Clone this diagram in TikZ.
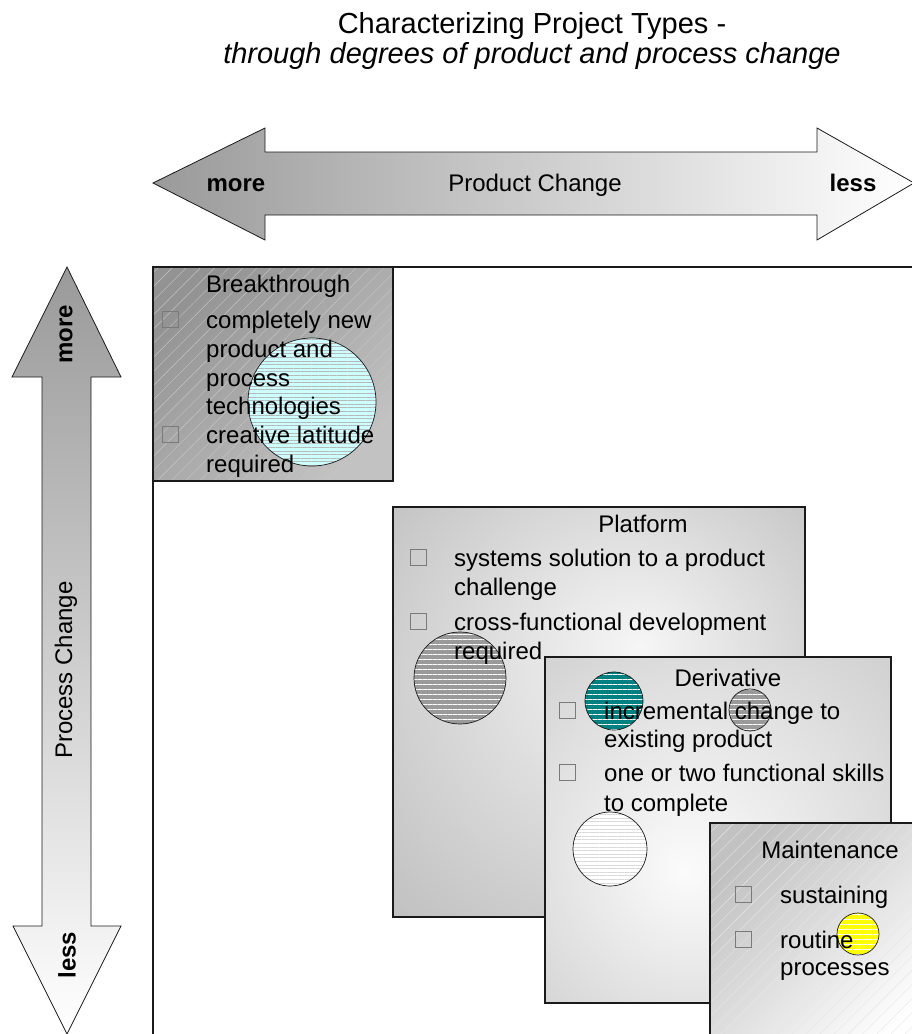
\documentclass[tikz,border=0pt]{standalone}
\usepackage{fontspec}
\setmainfont{Liberation Sans}
\usetikzlibrary{patterns.meta}

\definecolor{inkline}{HTML}{1A1A1A}
\definecolor{bulletgray}{HTML}{7A7A7A}
\definecolor{arrowdark}{HTML}{9A9A9A}
\definecolor{btdark}{HTML}{939393}
\definecolor{btlight}{HTML}{C2C2C2}
\definecolor{bthatch}{HTML}{C4C4C4}
\definecolor{mthatch}{HTML}{E6E6E6}
\definecolor{pfin}{HTML}{F6F6F6}
\definecolor{pfout}{HTML}{BDBDBD}
\definecolor{dvin}{HTML}{FBFBFB}
\definecolor{dvout}{HTML}{D2D2D2}
\definecolor{mtdark}{HTML}{C2C2C2}
\definecolor{cyanfill}{HTML}{CCFFFF}
\definecolor{cyanline}{HTML}{B8B8B8}
\definecolor{discgray}{HTML}{9A9A9A}
\definecolor{discteal}{HTML}{008080}
\definecolor{discyellow}{HTML}{FFFF00}
\definecolor{palestripe}{HTML}{DADADA}

% soft glows for the platform and derivative panels
\pgfdeclareradialshading{platformglow}{\pgfpoint{5bp}{8bp}}{color(0bp)=(pfin); color(40bp)=(pfout); color(50bp)=(pfout)}
\pgfdeclareradialshading{derivglow}{\pgfpoint{-5bp}{-6bp}}{color(0bp)=(dvin); color(36bp)=(dvout); color(50bp)=(dvout)}

\begin{document}
\begin{tikzpicture}[x=1pt, y=-1pt,
  frame/.style={draw=inkline, line width=1.6pt},
  arrowedge/.style={draw=inkline, line width=0.8pt, line join=miter},
  panel/.style={rectangle, inner sep=0pt, outer sep=0pt, anchor=north west},
  hatch/.style={postaction={pattern={Lines[angle=45,distance=10pt,line width=0.45pt]}, pattern color=bthatch}},
  hatchfaint/.style={postaction={pattern={Lines[angle=45,distance=10pt,line width=0.4pt]}, pattern color=mthatch}},
  panelborder/.style={postaction={draw=inkline, line width=1.6pt}},
  body/.style={font=\fontsize{24}{29}\selectfont, inner sep=0pt, text=black},
  itemtext/.style={body, anchor=base west},
  boxtitle/.style={body, anchor=base},
  axislabel/.style={body, anchor=base},
  boldlabel/.style={body, font=\fontsize{24}{29}\selectfont\bfseries, anchor=base},
  vlabel/.style={body, rotate=90, anchor=center},
  vbold/.style={vlabel, font=\fontsize{24}{29}\selectfont\bfseries},
  bul/.style={rectangle, draw=bulletgray, line width=0.8pt, minimum size=16pt, inner sep=0pt, anchor=south west},
  disc/.style n args={3}{circle, inner sep=0pt, minimum size=#1, draw=inkline, line width=0.7pt,
    preaction={fill=#2}, pattern={Lines[angle=0,distance=5pt,line width=0.9pt]}, pattern color=#3},
  finedisc/.style n args={3}{circle, inner sep=0pt, minimum size=#1, draw=inkline, line width=0.7pt,
    preaction={fill=#2}, pattern={Lines[angle=0,distance=3.6pt,line width=0.5pt]}, pattern color=#3},
  titlefont/.style={font=\fontsize{29}{30}\selectfont, inner sep=0pt, anchor=base}
]
\useasboundingbox (0,0) rectangle (912,1034);

% ---- heading ----
\node[titlefont] (title) at (532,33) {Characterizing Project Types -};
\node[titlefont, font=\fontsize{29}{30}\selectfont\itshape] (subtitle) at (532,63) {through degrees of product and process change};

% ---- product change axis ----
\draw[arrowedge, left color=arrowdark, right color=white]
  (153,183) -- (265,128) -- (265,152) -- (817,152) -- (817,128) -- (914,183)
  -- (817,240) -- (817,215) -- (265,215) -- (265,240) -- cycle;
\node[boldlabel] (pmore) at (236,191) {more};
\node[axislabel] (plabel) at (535,191) {Product Change};
\node[boldlabel] (pless) at (853,191) {less};

% ---- process change axis ----
\draw[arrowedge, top color=arrowdark, bottom color=white]
  (67,267) -- (121,377) -- (91,377) -- (91,926) -- (121,926) -- (67,1034)
  -- (13,926) -- (42,926) -- (42,377) -- (12,377) -- cycle;
\node[vbold] (vmore) at (66,334) {more};
\node[vlabel] (vlabel) at (66,670) {Process Change};
\node[vbold] (vless) at (67,955) {less};

% ---- outer frame ----
\draw[frame] (153,1040) -- (153,267) -- (920,267);

% ---- breakthrough ----
\node[panel, minimum width=240pt, minimum height=214pt, top color=btdark, bottom color=btlight,
      shading angle=45, hatch, panelborder] (breakthrough) at (153,267) {};
\node[finedisc={128pt}{cyanfill}{cyanline}] (btdisc) at (312,402) {};
\node[boxtitle, anchor=base west] (bttitle) at (206,292) {Breakthrough};
\node[bul] (btb1) at (162,328) {};
\node[itemtext] (bt1) at (206,328) {completely new};
\node[itemtext] (bt2) at (206,357) {product and};
\node[itemtext] (bt3) at (206,386) {process};
\node[itemtext] (bt4) at (206,414) {technologies};
\node[bul] (btb2) at (162,443) {};
\node[itemtext] (bt5) at (206,443) {creative latitude};
\node[itemtext] (bt6) at (206,472) {required};

% ---- platform ----
\node[panel, minimum width=412pt, minimum height=410pt, shade, shading=platformglow,
      draw=inkline, line width=1.6pt] (platform) at (393,507) {};
\node[disc={92pt}{discgray}{white}] (pfdisc) at (460,678) {};
\node[boxtitle] (pftitle) at (643,532) {Platform};
\node[bul] (pfb1) at (410,566) {};
\node[itemtext] (pf1) at (454,566) {systems solution to a product};
\node[itemtext] (pf2) at (454,595) {challenge};
\node[bul] (pfb2) at (410,630) {};
\node[itemtext] (pf3) at (454,630) {cross-functional development};
\node[itemtext] (pf4) at (454,659) {required};

% ---- derivative ----
\node[panel, minimum width=346pt, minimum height=346pt, shade, shading=derivglow,
      draw=inkline, line width=1.6pt] (derivative) at (545,657) {};
\node[disc={58pt}{discteal}{white}] (dvdisc1) at (614,701) {};
\node[disc={42pt}{discgray}{white}] (dvdisc2) at (750,710) {};
\node[finedisc={74pt}{white}{palestripe}] (dvdisc3) at (610,849) {};
\node[boxtitle] (dvtitle) at (728,686) {Derivative};
\node[bul] (dvb1) at (559,719) {};
\node[itemtext] (dv1) at (604,719) {incremental change to};
\node[itemtext] (dv2) at (604,747) {existing product};
\node[bul] (dvb2) at (559,781) {};
\node[itemtext] (dv3) at (604,781) {one or two functional skills};
\node[itemtext] (dv4) at (604,811) {to complete};

% ---- maintenance ----
\node[panel, minimum width=230pt, minimum height=230pt, top color=mtdark, bottom color=white,
      shading angle=45, hatchfaint, panelborder] (maintenance) at (710,823) {};
\node[disc={42pt}{discyellow}{white}] (mtdisc) at (858,934) {};
\node[boxtitle] (mttitle) at (830,858) {Maintenance};
\node[bul] (mtb1) at (735,903) {};
\node[itemtext] (mt1) at (780,903) {sustaining};
\node[bul] (mtb2) at (735,948) {};
\node[itemtext] (mt2) at (780,948) {routine};
\node[itemtext] (mt3) at (780,975) {processes};
\end{tikzpicture}
\end{document}
